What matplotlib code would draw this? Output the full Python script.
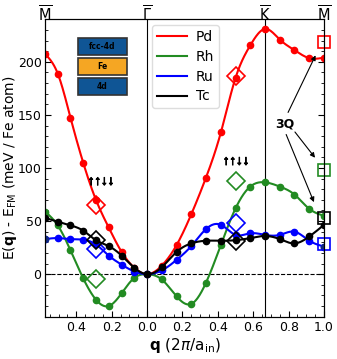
import numpy as np
import matplotlib
matplotlib.use("Agg")
import matplotlib.pyplot as plt
import matplotlib.patheffects as pe
from matplotlib.patches import Rectangle
from matplotlib.ticker import MultipleLocator, FuncFormatter

# q points along M-Gamma (negative side) and Gamma-K-M
q = [-0.577, -0.505, -0.433, -0.361, -0.289, -0.217, -0.144, -0.072, 0.0,
     0.083, 0.167, 0.25, 0.333, 0.417, 0.5, 0.583, 0.667, 0.75, 0.833, 0.917, 1.0]

pd_E = [207.5, 189, 147.5, 105, 70, 44, 21, 6, 0,
        8, 27.5, 56.5, 91, 133.5, 185, 215.5, 231, 221, 211, 203.5, 204]
rh_E = [59, 46, 22.5, -4, -24, -30, -18, -3.5, 0,
        -5, -21, -28, -8, 27.5, 62, 82.5, 86.5, 82.5, 75, 61.5, 55]
ru_E = [33, 34, 33, 32.5, 28, 17.5, 9, 2.5, 0,
        3.5, 13.5, 26.5, 42.5, 46.5, 37, 38.5, 37, 37, 40, 31.5, 26]
tc_E = [53, 49.5, 46, 41, 32, 26.5, 17.5, 6, 0,
        6.5, 21, 29, 31.5, 31.5, 32, 34, 36, 33, 29, 35.5, 46.5]

# uudd states (diamonds) and 3Q states (squares)
q_uudd = [-0.289, 0.5]
uudd = {"Pd": [65, 187], "Rh": [-5, 88], "Ru": [24, 48.5], "Tc": [32, 31.5]}
q_3q = 1.0
threeQ = {"Pd": 218.5, "Rh": 98.5, "Ru": 28.5, "Tc": 52.5}

labels = ["Pd", "Rh", "Ru", "Tc"]
series = [pd_E, rh_E, ru_E, tc_E]
colors = ["#ff0000", "#228b22", "#0000ff", "#000000"]

q_M, q_K = -0.577, 0.667


def spline(x, y, xs):
    # natural cubic spline, only used to draw a smooth line through the points
    x = np.asarray(x, float); y = np.asarray(y, float)
    n = len(x); h = np.diff(x)
    A = np.zeros((n, n)); b = np.zeros(n)
    A[0, 0] = A[-1, -1] = 1
    for i in range(1, n - 1):
        A[i, i - 1] = h[i - 1]; A[i, i] = 2 * (h[i - 1] + h[i]); A[i, i + 1] = h[i]
        b[i] = 3 * ((y[i + 1] - y[i]) / h[i] - (y[i] - y[i - 1]) / h[i - 1])
    c = np.linalg.solve(A, b)
    idx = np.clip(np.searchsorted(x, xs) - 1, 0, n - 2)
    dx = xs - x[idx]
    bb = (y[idx + 1] - y[idx]) / h[idx] - h[idx] * (2 * c[idx] + c[idx + 1]) / 3
    d = (c[idx + 1] - c[idx]) / (3 * h[idx])
    return y[idx] + bb * dx + c[idx] * dx**2 + d * dx**3


fig = plt.figure(figsize=(3.37, 3.59), dpi=100)
ax = fig.add_axes([0.1335, 0.118, 0.828, 0.828])

ax.axvline(0, color="k", lw=0.8)
ax.axvline(q_K, color="k", lw=0.8)
ax.axhline(0, color="k", lw=0.8, ls="--")

qs = np.linspace(q[0], q[-1], 400)
for lab, E, c in zip(labels, series, colors):
    ax.plot(qs, spline(q, E, qs), color=c, lw=1.5, label=lab)
    ax.plot(q, E, "o", color=c, ms=4.5, ls="none")
    ax.plot(q_uudd, uudd[lab], "D", mfc="none", mec=c, ms=9, mew=1.2, ls="none")
    ax.plot([q_3q], [threeQ[lab]], "s", mfc="none", mec=c, ms=8.5, mew=1.2,
            ls="none", clip_on=False, zorder=5)
# Ru end points look darker in the original
ax.plot([q[0], q[-1]], [ru_E[0], ru_E[-1]], "o", color="#102a80", ms=4.5, ls="none")

ax.set_xlim(q_M, 1.0)
ax.set_ylim(-40, 240)
ax.xaxis.set_major_locator(MultipleLocator(0.2))
ax.xaxis.set_minor_locator(MultipleLocator(0.05))
ax.yaxis.set_major_locator(MultipleLocator(50))
ax.yaxis.set_minor_locator(MultipleLocator(10))
ax.xaxis.set_major_formatter(FuncFormatter(lambda v, p: "%.1f" % abs(v)))
ax.tick_params(which="both", direction="in", top=True, right=True, labelsize=9)
ax.tick_params(which="major", length=4)
ax.tick_params(which="minor", length=2)
ax.tick_params(axis="y", pad=2.5)

top = ax.twiny()
top.set_xlim(ax.get_xlim())
top.set_xticks([q_M, 0.0, q_K, 1.0])
top.set_xticklabels([r"$\overline{\rm M}$", r"$\overline{\Gamma}$",
                     r"$\overline{\rm K}$", r"$\overline{\rm M}$"], fontsize=10.5)
top.tick_params(which="both", length=0, pad=-3.5)

ax.set_xlabel(r"$\mathbf{q}$ (2$\pi$/a$_{\rm in}$)", fontsize=11, labelpad=1)
ax.set_ylabel(r"E($\mathbf{q}$) - E$_{\rm FM}$ (meV / Fe atom)", fontsize=10)
ax.yaxis.set_label_coords(-0.094, 0.5)

leg = ax.legend(loc="upper left", bbox_to_anchor=(0.383, 0.981), fontsize=10,
                handlelength=2.2, handletextpad=0.6, frameon=True, framealpha=1,
                edgecolor="#dddddd", fancybox=True, borderpad=0.35,
                labelspacing=0.42, borderaxespad=0)

# layer stack inset
boxes = [("fcc-4d", "#0f5595"), ("Fe", "#f5a623"), ("4d", "#0f5595")]
y0 = 0.880
for txt, fc in boxes:
    ax.add_patch(Rectangle((0.118, y0), 0.176, 0.058, transform=ax.transAxes,
                           fc=fc, ec="#333333", lw=1.2, zorder=6))
    ax.text(0.206, y0 + 0.029, txt, transform=ax.transAxes, ha="center",
            va="center", fontsize=5.5, fontweight="bold", zorder=7)
    y0 -= 0.067

arrows_font = ["Liberation Sans", "DejaVu Sans"]
thick = [pe.withStroke(linewidth=0.7, foreground="k")]
ax.text(-0.26, 87, "↑↑↓↓", fontsize=9.5, fontweight="bold", ha="center",
        va="center", family=arrows_font, path_effects=thick)
ax.text(0.503, 106, "↑↑↓↓", fontsize=9.5, fontweight="bold", ha="center",
        va="center", family=arrows_font, path_effects=thick)

ax.text(0.78, 141, "3Q", fontsize=9, fontweight="bold", ha="center", va="center")
arrow = dict(arrowstyle="-|>", color="k", lw=0.8, mutation_scale=7)
ax.annotate("", xy=(0.959, 208.5), xytext=(0.79, 150), arrowprops=arrow)
ax.annotate("", xy=(0.959, 107.6), xytext=(0.826, 136), arrowprops=arrow)
ax.annotate("", xy=(0.949, 65.4), xytext=(0.78, 134), arrowprops=arrow)

fig.savefig("out.png", dpi=100)
